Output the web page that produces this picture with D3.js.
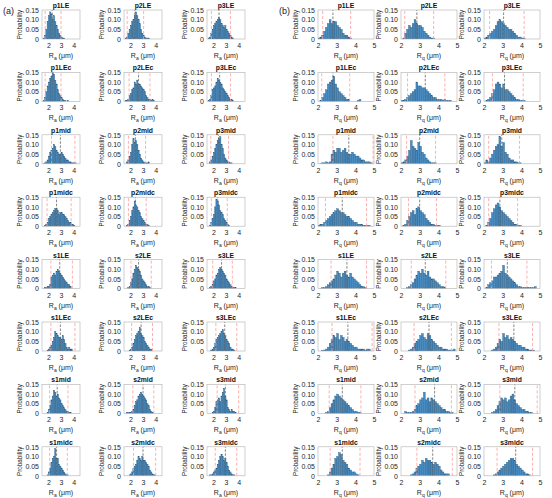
<!DOCTYPE html>
<html><head><meta charset="utf-8">
<script src="https://cdn.jsdelivr.net/npm/d3@7"></script>
<style>body{margin:0;background:#fff}</style>
</head><body>
<script>
var names = ['p1LE','p2LE','p3LE','p1LEc','p2LEc','p3LEc','p1mid','p2mid','p3mid','p1midc','p2midc','p3midc',
  's1LE','s2LE','s3LE','s1LEc','s2LEc','s3LEc','s1mid','s2mid','s3mid','s1midc','s2midc','s3midc'];
var yTicks = [0, 0.05, 0.10, 0.15],
  yTickLabels = ['0','0.05','0.10','0.15'];
var xTicksA = [2, 3, 4], xTicksB = [2, 3, 4, 5];

// panel (a): Ra, bin width 0.1
var startsA = [1.6,1.6,1.6,1.6,1.6,1.6,1.6,1.7,1.7,1.7,1.7,1.7,1.7,1.8,1.7,1.9,1.9,1.8,1.9,1.7,1.9,1.9,1.9,1.7];
var meansA = [2.3,2.35,2.45,2.3,2.65,2.5,2.95,2.4,2.4,2.65,2.4,2.35,2.9,2.65,2.65,2.95,2.85,2.9,2.7,3.0,2.95,2.65,3.0,2.95];
var lowA = [1.75,1.75,1.85,1.75,1.9,1.85,2.25,1.85,1.8,1.9,1.85,1.85,2.2,2.05,1.95,2.2,2.1,2.2,2.1,2.2,2.3,2.1,2.25,2.15];
var highA = [3.0,3.05,3.35,3.0,3.55,3.35,4.1,3.2,3.2,3.8,3.25,3.1,3.9,3.65,3.5,4.1,3.75,3.85,3.55,3.85,4.0,3.5,4.0,3.85];
var binsA = [
  [0.005,0.02,0.05,0.09,0.12,0.14,0.13,0.10,0.12,0.09,0.07,0.05,0.03,0.02,0.01,0.005,0.005],
  [0.005,0.01,0.03,0.05,0.07,0.09,0.10,0.12,0.14,0.12,0.10,0.08,0.05,0.03,0.02,0.01,0.005,0.005,0.005],
  [0.005,0.01,0.03,0.05,0.07,0.08,0.09,0.10,0.11,0.10,0.08,0.07,0.06,0.07,0.05,0.04,0.03,0.02,0.01,0.005],
  [0.005,0.02,0.05,0.08,0.10,0.12,0.13,0.15,0.14,0.11,0.09,0.06,0.04,0.03,0.02,0.01,0.005,0.005,0,0.005],
  [0.005,0.005,0.01,0.03,0.04,0.06,0.07,0.10,0.09,0.11,0.09,0.09,0.08,0.07,0.06,0.05,0.03,0.02,0.01,0.01,0.005,0.01,0.005],
  [0.005,0.01,0.03,0.06,0.07,0.08,0.10,0.12,0.11,0.10,0.09,0.07,0.06,0.05,0.04,0.03,0.02,0.01,0.01,0.005],
  [0.002,0.005,0.01,0.02,0.04,0.06,0.07,0.08,0.10,0.09,0.07,0.06,0.05,0.05,0.06,0.05,0.04,0.03,0.02,0.02,0.01,0.01,0.005,0.005,0.005,0.005],
  [0.01,0.02,0.04,0.06,0.10,0.13,0.11,0.12,0.10,0.07,0.05,0.03,0.02,0.01,0.005,0.005,0.005,0.01],
  [0.01,0.02,0.04,0.06,0.08,0.10,0.12,0.13,0.14,0.10,0.08,0.05,0.03,0.02,0.01,0.01,0.005,0.005],
  [0.005,0.01,0.02,0.04,0.05,0.06,0.07,0.08,0.09,0.09,0.08,0.06,0.07,0.07,0.06,0.06,0.05,0.04,0.03,0.02,0.02,0.01,0.01,0.005],
  [0.005,0.01,0.03,0.05,0.08,0.10,0.13,0.11,0.10,0.08,0.07,0.05,0.04,0.03,0.02,0.01,0.01,0.005],
  [0.005,0.02,0.04,0.06,0.10,0.14,0.13,0.11,0.08,0.07,0.06,0.04,0.03,0.02,0.01,0.005],
  [0.005,0.005,0.01,0.01,0.02,0.06,0.07,0.08,0.07,0.09,0.10,0.09,0.08,0.07,0.06,0.05,0.04,0.03,0.02,0.02,0.01],
  [0.005,0.01,0.03,0.05,0.08,0.10,0.12,0.11,0.10,0.09,0.07,0.05,0.04,0.03,0.02,0.01,0.01,0.005],
  [0.005,0.01,0.02,0.04,0.05,0.07,0.08,0.10,0.11,0.10,0.09,0.08,0.07,0.05,0.04,0.03,0.02,0.01,0.005,0.005,0.005],
  [0.005,0.01,0.02,0.03,0.05,0.07,0.10,0.09,0.08,0.07,0.07,0.06,0.08,0.06,0.04,0.02,0.01,0.02,0.01,0.01],
  [0.005,0.01,0.02,0.04,0.06,0.08,0.09,0.10,0.12,0.09,0.08,0.07,0.05,0.04,0.03,0.02,0.01,0.01],
  [0.005,0.01,0.02,0.04,0.06,0.07,0.08,0.09,0.10,0.11,0.09,0.08,0.06,0.05,0.04,0.02,0.01,0.01,0.005],
  [0.005,0.02,0.04,0.07,0.09,0.12,0.11,0.09,0.10,0.08,0.07,0.05,0.04,0.03,0.02,0.01,0.01,0.005,0.005],
  [0.005,0.005,0.005,0.005,0.01,0.02,0.04,0.06,0.07,0.09,0.10,0.11,0.10,0.09,0.08,0.07,0.05,0.04,0.02,0.01,0.005],
  [0.005,0.01,0.03,0.06,0.07,0.08,0.06,0.09,0.11,0.13,0.09,0.07,0.03,0.02,0.01,0.02,0.01,0.01,0.005],
  [0.005,0.02,0.04,0.07,0.09,0.10,0.14,0.09,0.09,0.06,0.05,0.04,0.03,0.02,0.01,0.005,0.005],
  [0.005,0.01,0.02,0.04,0.05,0.06,0.08,0.10,0.09,0.08,0.10,0.08,0.08,0.07,0.06,0.05,0.03,0.02,0.01,0.005,0.005],
  [0.005,0.005,0.01,0.02,0.03,0.04,0.06,0.08,0.10,0.11,0.10,0.08,0.09,0.07,0.05,0.03,0.02,0.01,0.005,0.005]
];

// panel (b): Rq, bin width 0.1
var startsB = [2.0,2.1,2.0,2.1,2.0,2.1,2.1,2.0,2.0,2.0,2.1,2.1,2.1,2.3,2.1,2.2,2.4,2.4,2.4,2.2,2.4,2.5,2.5,2.5];
var meansB = [2.8,2.85,3.05,2.8,3.3,3.1,3.65,3.0,2.95,3.3,3.0,2.85,3.55,3.3,3.25,3.6,3.5,3.6,3.3,3.8,3.65,3.3,3.7,3.7];
var lowB = [2.25,2.2,2.3,2.2,2.35,2.45,2.8,2.3,2.25,2.4,2.4,2.25,2.7,2.55,2.4,2.75,2.7,2.8,2.6,2.75,2.85,2.65,2.85,2.7];
var highB = [3.75,3.75,4.15,3.7,4.35,4.1,4.95,3.85,3.9,4.6,3.9,3.8,4.6,4.4,4.3,4.9,4.7,4.6,4.3,4.7,4.85,4.25,4.75,4.6];
var binsB = [
  [0.005,0.01,0.02,0.04,0.06,0.08,0.10,0.08,0.09,0.09,0.07,0.06,0.05,0.03,0.02,0.02,0.01,0.005],
  [0.005,0.03,0.05,0.07,0.06,0.08,0.10,0.08,0.07,0.07,0.06,0.04,0.03,0.02,0.01,0.005,0.005],
  [0.005,0.01,0.02,0.03,0.04,0.05,0.07,0.09,0.10,0.09,0.08,0.07,0.06,0.05,0.05,0.04,0.03,0.02,0.01,0.01,0.005,0.005],
  [0.005,0.02,0.04,0.06,0.09,0.10,0.11,0.13,0.09,0.07,0.05,0.04,0.03,0.02,0.01,0.01,0,0,0,0,0.005,0.01],
  [0.005,0.005,0.01,0.02,0.03,0.04,0.05,0.06,0.10,0.08,0.08,0.07,0.07,0.06,0.05,0.04,0.03,0.02,0.02,0.01,0.01,0.01,0.005,0.01,0.005,0.005,0.005],
  [0.005,0.01,0.02,0.04,0.06,0.09,0.10,0.09,0.07,0.09,0.06,0.06,0.05,0.04,0.03,0.02,0.01,0.01,0.005,0.005,0.005],
  [0.002,0.005,0.005,0.01,0.005,0.01,0.05,0.07,0.06,0.08,0.08,0.06,0.07,0.08,0.06,0.05,0.05,0.06,0.05,0.04,0.04,0.03,0.02,0.02,0.01,0.01,0.01,0.005],
  [0.005,0.01,0.02,0.04,0.07,0.12,0.09,0.08,0.07,0.11,0.09,0.06,0.05,0.03,0.02,0.01,0.005,0.005,0.005],
  [0.005,0.02,0.01,0.03,0.05,0.07,0.09,0.10,0.14,0.09,0.11,0.06,0.05,0.03,0.02,0.02,0.01,0.01,0.005,0.005],
  [0.005,0.01,0.01,0.02,0.03,0.04,0.05,0.06,0.07,0.08,0.09,0.08,0.07,0.07,0.06,0.05,0.05,0.04,0.03,0.02,0.02,0.01,0.01,0.01,0.005,0.005,0.005,0.005],
  [0.005,0.01,0.03,0.05,0.07,0.08,0.06,0.09,0.10,0.08,0.07,0.06,0.04,0.03,0.02,0.01,0.01,0.005,0.005,0.005],
  [0.005,0.02,0.04,0.07,0.09,0.11,0.12,0.10,0.08,0.07,0.06,0.05,0.04,0.03,0.02,0.01,0.01,0.005,0.005],
  [0.002,0.005,0.005,0.01,0.02,0.03,0.04,0.05,0.07,0.09,0.08,0.06,0.08,0.09,0.07,0.06,0.08,0.06,0.05,0.04,0.03,0.02,0.01,0.01,0.005],
  [0.005,0.01,0.02,0.03,0.05,0.07,0.09,0.08,0.10,0.08,0.07,0.09,0.06,0.05,0.05,0.04,0.03,0.02,0.01,0.01,0.005],
  [0.005,0.02,0.03,0.04,0.06,0.06,0.07,0.08,0.09,0.12,0.08,0.07,0.06,0.05,0.04,0.03,0.02,0.01,0.01,0.005,0.005,0.005,0.005,0.005,0.005,0.005,0.01],
  [0.002,0.005,0.01,0.02,0.04,0.06,0.08,0.07,0.09,0.06,0.08,0.07,0.05,0.06,0.05,0.04,0.03,0.02,0.02,0.01,0.01,0.01,0.01,0.005,0.01,0.01],
  [0.005,0.01,0.02,0.04,0.05,0.06,0.08,0.09,0.07,0.06,0.09,0.08,0.06,0.05,0.04,0.03,0.02,0.02,0.01,0.01,0.01,0.005,0.005,0.005,0.01],
  [0.005,0.01,0.02,0.04,0.06,0.05,0.09,0.07,0.08,0.06,0.07,0.06,0.05,0.04,0.03,0.03,0.02,0.02,0.01,0.01,0.005,0.005,0.005],
  [0.005,0.01,0.03,0.05,0.07,0.09,0.10,0.09,0.08,0.07,0.06,0.05,0.04,0.03,0.02,0.01,0.01,0.005,0.005],
  [0.01,0.005,0.005,0.005,0.01,0.02,0.04,0.05,0.07,0.08,0.11,0.07,0.08,0.06,0.08,0.07,0.06,0.05,0.04,0.03,0.02,0.02,0.01,0.01,0.005,0.005],
  [0.005,0.01,0.02,0.04,0.06,0.08,0.07,0.08,0.06,0.07,0.09,0.10,0.07,0.05,0.04,0.03,0.02,0.02,0.01,0.01,0.005,0.005],
  [0.005,0.02,0.04,0.06,0.09,0.10,0.12,0.11,0.08,0.07,0.06,0.04,0.03,0.02,0.02,0.01,0.005],
  [0.005,0.01,0.02,0.04,0.05,0.06,0.08,0.07,0.09,0.08,0.08,0.07,0.06,0.07,0.06,0.05,0.03,0.02,0.01,0.01,0.01],
  [0.005,0.01,0.02,0.03,0.04,0.05,0.06,0.07,0.08,0.09,0.09,0.08,0.06,0.05,0.04,0.03,0.02,0.01,0.01,0.005]
];
var binWidth = 0.1;

var W = 552, H = 498;
var svg = d3.select('body').append('svg')
  .attr('width', W).attr('height', H)
  .attr('font-family', 'Liberation Sans, Arial, sans-serif');

var axisColor = '#262626', boxColor = '#b0b0b0';
var barFill = '#4a8cc0', barStroke = '#24557d';
var rowH = 29, rowPitch = 62.4, rowTop0 = 10;

function drawPanel(opts) {
  opts.names.forEach(function(name, i) {
    var col = i % 3, row = Math.floor(i / 3);
    var left = opts.lefts[col], top = rowTop0 + row * rowPitch;
    var x = d3.scaleLinear().domain(opts.domain).range([left, left + opts.width]);
    var y = d3.scaleLinear().domain([0, 0.15]).range([top + rowH, top]);
    var g = svg.append('g');
    var clipId = opts.id + i;
    g.append('clipPath').attr('id', clipId).append('rect')
      .attr('x', left).attr('y', top - 2).attr('width', opts.width).attr('height', rowH + 2);

    var data = opts.bins[i].map(function(v, k) {
      return {x0: opts.starts[i] + k * binWidth, v: v};
    });
    g.append('g').attr('clip-path', 'url(#' + clipId + ')')
      .selectAll('rect').data(data).enter().append('rect')
      .attr('x', function(d) { return x(d.x0); })
      .attr('width', function(d) { return x(d.x0 + binWidth) - x(d.x0); })
      .attr('y', function(d) { return y(d.v); })
      .attr('height', function(d) { return y(0) - y(d.v); })
      .attr('fill', barFill).attr('stroke', barStroke).attr('stroke-width', 0.35);

    // mean and bounds
    [[opts.means[i], '#666', '2.5,1.5'], [opts.lows[i], '#ff9a9a', '3,2'], [opts.highs[i], '#ff9a9a', '3,2']]
      .forEach(function(l) {
        g.append('line').attr('x1', x(l[0])).attr('x2', x(l[0]))
          .attr('y1', y(0)).attr('y2', y(0.15))
          .attr('stroke', l[1]).attr('stroke-width', 0.8).attr('stroke-dasharray', l[2]);
      });

    // box
    g.append('rect').attr('x', left).attr('y', top).attr('width', opts.width).attr('height', rowH)
      .attr('fill', 'none').attr('stroke', boxColor).attr('stroke-width', 0.6);

    var xa = g.append('g').attr('transform', 'translate(0,' + (top + rowH) + ')')
      .call(d3.axisBottom(x).tickValues(opts.xTicks).tickSize(0).tickPadding(4).tickFormat(d3.format('d')));
    var ya = g.append('g').attr('transform', 'translate(' + left + ',0)')
      .call(d3.axisLeft(y).tickValues(yTicks).tickSize(0).tickPadding(3)
        .tickFormat(function(d, k) { return yTickLabels[k]; }));
    [xa, ya].forEach(function(a) {
      a.select('.domain').remove();
      a.selectAll('text').attr('font-size', 7).attr('fill', axisColor);
    });

    g.append('text').attr('x', left + opts.width / 2).attr('y', top - 2)
      .attr('text-anchor', 'middle').attr('font-size', 6.8).attr('font-weight', 'bold')
      .attr('fill', '#111').text(name);
    g.append('text')
      .attr('transform', 'translate(' + (left - 20) + ',' + (top + rowH / 2) + ') rotate(-90)')
      .attr('text-anchor', 'middle').attr('font-size', 6.3).attr('fill', axisColor).text('Probability');
    var xl = g.append('text').attr('x', left + opts.width / 2).attr('y', top + rowH + 19)
      .attr('text-anchor', 'middle').attr('font-size', 7).attr('fill', axisColor);
    xl.append('tspan').text('R');
    xl.append('tspan').attr('font-size', 5).attr('dy', 2).text(opts.sub);
    xl.append('tspan').attr('dy', -2).text(' (\u03bcm)');
  });
}

drawPanel({id: 'a', names: names, lefts: [42, 124, 207], width: 38, domain: [1.5, 4.5], xTicks: xTicksA,
  starts: startsA, bins: binsA, means: meansA, lows: lowA, highs: highA, sub: 'a'});
drawPanel({id: 'b', names: names, lefts: [318, 401, 484], width: 56, domain: [2, 5], xTicks: xTicksB,
  starts: startsB, bins: binsB, means: meansB, lows: lowB, highs: highB, sub: 'q'});

svg.append('text').attr('x', 3).attr('y', 14).attr('font-size', 9).attr('fill', '#222').text('(a)');
svg.append('text').attr('x', 279).attr('y', 14).attr('font-size', 9).attr('fill', '#222').text('(b)');
</script>
</body></html>
